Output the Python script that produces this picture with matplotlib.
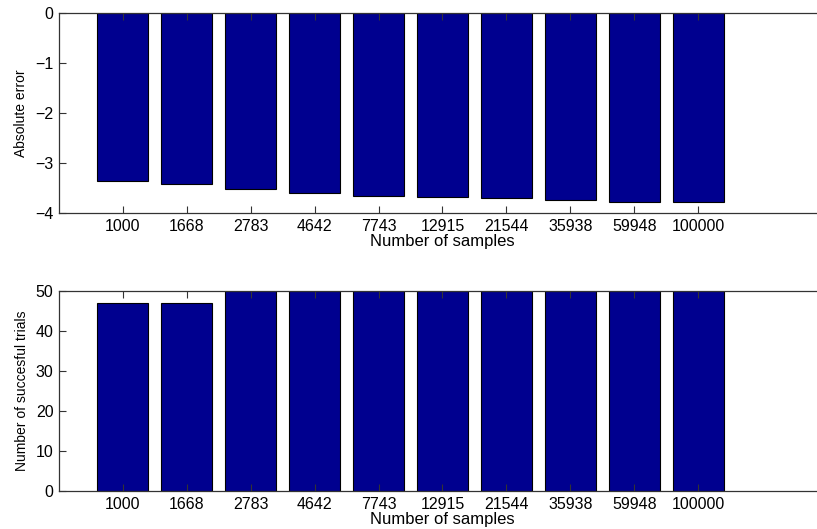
import matplotlib
matplotlib.use('Agg')
import matplotlib.pyplot as plt
import numpy as np

# sample sizes and results per run
samples = ['1000', '1668', '2783', '4642', '7743', '12915', '21544', '35938', '59948', '100000']
abs_error = [-3.35, -3.41, -3.52, -3.59, -3.65, -3.67, -3.69, -3.73, -3.77, -3.77]
successful = [47, 47, 50, 50, 50, 50, 50, 50, 50, 50]

plt.rcParams['font.family'] = ['Liberation Sans', 'DejaVu Sans']

BAR_COLOR = '#00008f'
W, H = 817, 529

fig = plt.figure(figsize=(W / 100, H / 100), dpi=100)

def px_axes(left, top, right, bottom):
    return fig.add_axes([left / W, 1 - bottom / H, (right - left) / W, (bottom - top) / H])

ax1 = px_axes(59, 13, 826, 213)
ax2 = px_axes(59, 291, 826, 491)

x = np.arange(1, len(samples) + 1)

for ax, vals, ylim, yticks, ylabel in [
    (ax1, abs_error, (-4, 0), [-4, -3, -2, -1, 0], 'Absolute error'),
    (ax2, successful, (0, 50), [0, 10, 20, 30, 40, 50], 'Number of succesful trials'),
]:
    ax.bar(x, vals, width=0.8, color=BAR_COLOR, edgecolor='black', linewidth=0.8, zorder=1)
    ax.set_xlim(0, 12)
    ax.set_ylim(*ylim)
    ax.set_xticks(x)
    ax.set_xticklabels(samples)
    ax.set_yticks(yticks)
    ax.set_yticklabels(['\u2212%d' % -t if t < 0 else str(t) for t in yticks])
    ax.tick_params(direction='in', top=True, right=True, length=5, width=0.8,
                   color='#333333', pad=4, labelsize=11.5)
    for sp in ax.spines.values():
        sp.set_linewidth(0.9)
        sp.set_color('#333333')
        sp.set_zorder(3)
    ax.set_xlabel('Number of samples', fontsize=12, labelpad=0)
    ax.set_ylabel(ylabel, fontsize=10, labelpad=5)

fig.savefig('out.png', dpi=100)
